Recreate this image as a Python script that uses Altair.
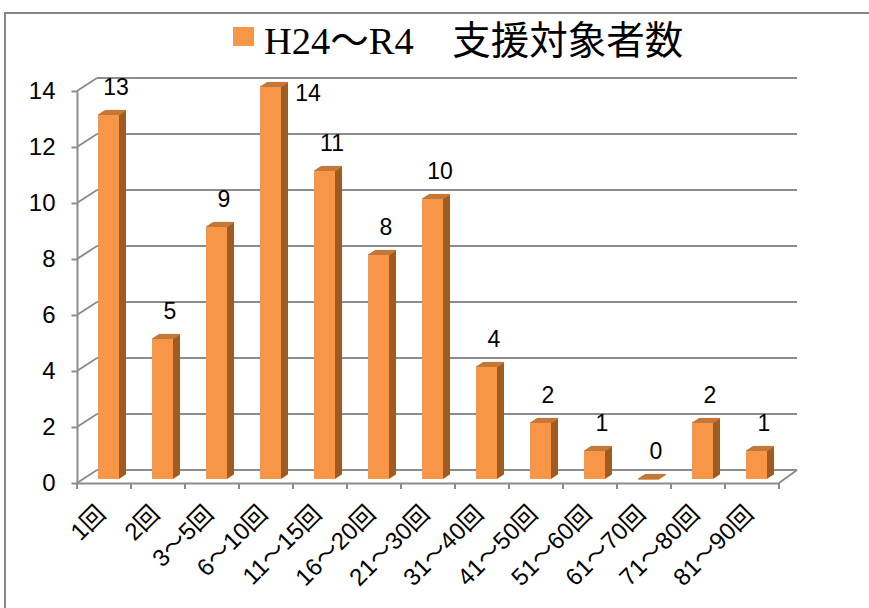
import altair as alt
import pandas as pd

# ---- data -------------------------------------------------------------
categories = ["1回", "2回", "3～5回", "6～10回", "11～15回", "16～20回", "21～30回",
              "31～40回", "41～50回", "51～60回", "61～70回", "71～80回", "81～90回"]
counts = [13, 5, 9, 14, 11, 8, 10, 4, 2, 1, 0, 2, 1]
series_name = "H24～R4　支援対象者数"
y_ticks = [0, 2, 4, 6, 8, 10, 12, 14]

bars = pd.DataFrame({"区分": categories, "人数": counts, "系列": series_name})
grid = pd.DataFrame({"v": y_ticks})
single = pd.DataFrame({"系列": [series_name]})

# ---- geometry / style --------------------------------------------------
W, H = 702, 392                 # front plane of the plot
WALL_DX, WALL_DY = 20, -13      # depth of the back wall
BAR_DX, BAR_DY = 4.5, -4        # bars stand a little behind the front plane
BAR_W = 21
EXT_X, EXT_Y = 7.0, -4.5        # depth of each bar
STEPS = 12

ORANGE = "#F79646"
TOP = "#C57838"
SIDE = "#9C5C26"
GRID = "#8C8C8C"
SANS = "'Liberation Sans', 'Noto Sans CJK JP', sans-serif"
SERIF = "'Liberation Serif', 'Noto Sans CJK JP', serif"

x_scale = alt.Scale(domain=categories, paddingInner=0, paddingOuter=0)
y_scale = alt.Scale(domain=[0, 14], nice=False, zero=True)

x_axis = alt.Axis(title=None, ticks=False, domainColor=GRID, domainWidth=2,
                  labelAngle=-45, labelAlign="right", labelBaseline="middle",
                  labelFontSize=24, labelFont=SANS, labelColor="#000000",
                  labelPadding=27, labelOffset=-2)
y_axis = alt.Axis(title=None, values=y_ticks, grid=False, domainColor=GRID,
                  domainWidth=2, tickColor=GRID, tickWidth=2, tickSize=6,
                  labelFontSize=24, labelFont=SANS, labelColor="#000000",
                  labelPadding=16)


def X(**kw):
    return alt.X("区分:N", sort=categories, scale=x_scale, axis=x_axis, **kw)


def Y(field):
    return alt.Y(f"{field}:Q", scale=y_scale, axis=y_axis)


# ---- walls and floor ---------------------------------------------------
back_grid = alt.Chart(grid).mark_rule(color=GRID, strokeWidth=2, yOffset=WALL_DY).encode(
    x=alt.value(WALL_DX), x2=alt.value(W + WALL_DX - 2), y=Y("v"))

side_links = alt.Chart(grid).mark_rule(color=GRID, strokeWidth=2, y2Offset=WALL_DY).encode(
    x=alt.value(0), x2=alt.value(WALL_DX), y=Y("v"), y2="v")

floor_edge = alt.Chart(grid).transform_filter("datum.v == 0").mark_rule(
    color=GRID, strokeWidth=2, y2Offset=WALL_DY).encode(
    x=alt.value(W), x2=alt.value(W + WALL_DX - 2), y=Y("v"), y2="v")

x_ticks = alt.Chart(bars).mark_rule(color=GRID, strokeWidth=2).encode(
    x=X(bandPosition=0), y=alt.value(H), y2=alt.value(H + 6))
x_tick_end = alt.Chart(single).mark_rule(color=GRID, strokeWidth=2).encode(
    x=alt.value(W), y=alt.value(H), y2=alt.value(H + 6))

# ---- 3-D bars: extruded body, top face, front face ---------------------
layers = [back_grid, side_links, floor_edge, x_ticks, x_tick_end]

for i in range(1, STEPS + 1):
    ox = BAR_DX + EXT_X * i / STEPS
    oy = BAR_DY + EXT_Y * i / STEPS
    layers.append(alt.Chart(bars).mark_bar(
        color=SIDE, width=BAR_W, xOffset=ox, x2Offset=ox, yOffset=oy, y2Offset=oy
    ).encode(x=X(), y=Y("人数")))

for i in range(0, STEPS + 1):
    ox = BAR_DX + EXT_X * i / STEPS
    oy = BAR_DY + EXT_Y * i / STEPS
    layers.append(alt.Chart(bars).mark_tick(
        color=TOP, size=BAR_W, thickness=1.2, xOffset=ox, yOffset=oy, opacity=1
    ).encode(x=X(), y=Y("人数")))

series_color = alt.Scale(domain=[series_name], range=[ORANGE])

front = alt.Chart(bars).mark_bar(
    width=BAR_W, xOffset=BAR_DX, x2Offset=BAR_DX, yOffset=BAR_DY, y2Offset=BAR_DY
).encode(x=X(), y=Y("人数"),
         color=alt.Color("系列:N", scale=series_color, legend=None))
layers.append(front)

# ---- value labels ------------------------------------------------------
labels = alt.Chart(bars).transform_filter("datum['人数'] < 14").mark_text(
    fontSize=23, font=SANS, color="#000000", dx=12, dy=-31, baseline="middle"
).encode(x=X(), y=Y("人数"), text="人数:Q")
label_top = alt.Chart(bars).transform_filter("datum['人数'] >= 14").mark_text(
    fontSize=23, font=SANS, color="#000000", dx=42, dy=3, baseline="middle"
).encode(x=X(), y=Y("人数"), text="人数:Q")
layers += [labels, label_top]

# ---- series key and heading above the plot -----------------------------
key_swatch = alt.Chart(single).mark_rect().encode(
    x=alt.value(156), x2=alt.value(177), y=alt.value(-64), y2=alt.value(-45),
    color=alt.Color("系列:N", scale=series_color, legend=None))
key_text = alt.Chart(single).mark_text(
    align="left", baseline="alphabetic", fontSize=38.5, font=SERIF, color="#000000"
).encode(x=alt.value(187), y=alt.value(-37), text="系列:N")
layers += [key_swatch, key_text]

# ---- outer frame -------------------------------------------------------
frame = alt.Chart(single).mark_rect(fillOpacity=0, stroke="#878787", strokeWidth=2).encode(
    x=alt.value(-72), x2=alt.value(820), y=alt.value(-78), y2=alt.value(600))
layers.append(frame)

chart = alt.layer(*layers).properties(
    width=W, height=H,
    autosize=alt.AutoSizeParams(type="none"),
    padding={"left": 77, "top": 91, "right": 90, "bottom": 125},
    background="white",
).configure_view(stroke=None)

chart.save("out.html", embed_options={"renderer": "svg", "actions": False})
